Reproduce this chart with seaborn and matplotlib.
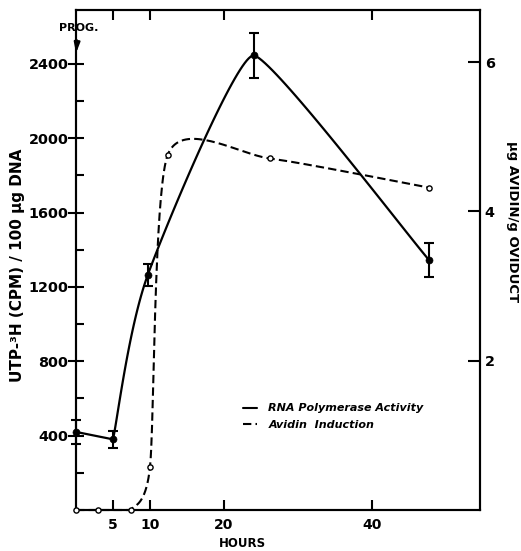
import numpy as np
import pandas as pd
import seaborn as sns
import matplotlib
matplotlib.use('Agg')
import matplotlib.pyplot as plt
from matplotlib.lines import Line2D

# RNA polymerase activity (left axis)
rna_hours = [0, 5, 9.7, 24, 47.7]
rna_cpm = [420, 380, 1265, 2445, 1346]
rna_err = [65, 45, 60, 120, 90]

# avidin induction (right axis)
avidin_hours = [0, 3, 7.4, 10, 12.4, 26.2, 47.7]
avidin_ug = [0, 0, 0, 0.58, 4.76, 4.71, 4.32]

x_ticks = [5, 10, 20, 40]
left_ticks = [400, 800, 1200, 1600, 2000, 2400]
left_minor = [200, 600, 1000, 1400, 1800, 2200]
right_ticks = [2, 4, 6]


def smooth(ax, xs, ys, tension=0.35, peak=None, n=40):
    # hand-drawn look: cardinal spline through the points, done in screen space
    pts = ax.transData.transform(np.column_stack([xs, ys]))
    tan = np.zeros_like(pts)
    tan[1:-1] = tension * (pts[2:] - pts[:-2])
    tan[0] = tension * (pts[1] - pts[0])
    tan[-1] = tension * (pts[-1] - pts[-2])
    if peak is not None:
        # round the top off flat at a local maximum/minimum
        for i in range(1, len(pts) - 1):
            if (pts[i, 1] - pts[i - 1, 1]) * (pts[i + 1, 1] - pts[i, 1]) < 0:
                tan[i] = [peak * (pts[i + 1, 0] - pts[i - 1, 0]), 0]
    t = np.linspace(0, 1, n)[:, None]
    h00 = 2 * t**3 - 3 * t**2 + 1
    h10 = t**3 - 2 * t**2 + t
    h01 = -2 * t**3 + 3 * t**2
    h11 = t**3 - t**2
    out = [pts[:1]]
    for i in range(len(pts) - 1):
        seg = h00 * pts[i] + h10 * tan[i] + h01 * pts[i + 1] + h11 * tan[i + 1]
        out.append(seg[1:])
    path = ax.transData.inverted().transform(np.vstack(out))
    return path[:, 0], path[:, 1]


sns.set_style('ticks')
plt.rcParams['font.family'] = ['DejaVu Sans']
plt.rcParams['font.weight'] = 'bold'
plt.rcParams['axes.labelweight'] = 'bold'
for key in ['text.color', 'axes.labelcolor', 'xtick.color', 'ytick.color', 'axes.edgecolor']:
    plt.rcParams[key] = 'black'

fig, ax = plt.subplots(figsize=(5.21, 5.51), dpi=100)
fig.subplots_adjust(left=0.146, right=0.921, bottom=0.0744, top=0.982)
ax2 = ax.twinx()

ax.set_xlim(0, 54.6)
ax.set_ylim(0, 2690)
ax2.set_ylim(0, 6.7)

# curves
sx, sy = smooth(ax, rna_hours[1:], rna_cpm[1:], tension=0.4, peak=0.18)
rna_x = np.concatenate([[rna_hours[0]], sx])
rna_y = np.concatenate([[rna_cpm[0]], sy])
sns.lineplot(x=rna_x, y=rna_y, ax=ax, sort=False, estimator=None,
             color='black', lw=1.6, clip_on=False)

vx, vy = smooth(ax2, avidin_hours[2:], avidin_ug[2:], tension=0.35)
av_x = np.concatenate([avidin_hours[:2], vx])
av_y = np.concatenate([avidin_ug[:2], vy])
sns.lineplot(x=av_x, y=av_y, ax=ax2, sort=False, estimator=None,
             color='black', lw=1.5, linestyle=(0, (4, 2)), clip_on=False)

# points and error bars
eb = ax.errorbar(rna_hours, rna_cpm, yerr=rna_err, fmt='none', ecolor='black',
                 elinewidth=1.5, capsize=3.5, capthick=1.5)
for art in eb.lines[1] + eb.lines[2]:
    art.set_clip_on(False)
sns.scatterplot(x=rna_hours, y=rna_cpm, ax=ax, color='black', edgecolor='black',
                s=26, zorder=5, clip_on=False)
sns.scatterplot(x=avidin_hours, y=avidin_ug, ax=ax2, color='white', edgecolor='black',
                linewidth=1, s=14, zorder=5, clip_on=False)

ax.set_xlim(0, 54.6)
ax.set_ylim(0, 2690)
ax2.set_ylim(0, 6.7)

# ticks
ax.set_xticks(x_ticks)
ax.set_xticklabels([str(v) for v in x_ticks])
ax.set_yticks(left_ticks)
ax.set_yticks(left_minor, minor=True)
ax2.set_yticks(right_ticks)
ax.tick_params(axis='x', which='major', direction='in', top=True, length=7.5,
               width=1.5, labelsize=10, pad=5.5)
ax.tick_params(axis='y', which='major', direction='inout', length=11,
               width=1.5, labelsize=10.4, pad=0)
ax.tick_params(axis='y', which='minor', direction='in', length=6, width=1.5)
ax2.tick_params(axis='y', direction='in', length=8.5, width=1.5, labelsize=10.4, pad=3.5)
for a in (ax, ax2):
    for sp in a.spines.values():
        sp.set_linewidth(1.5)
        sp.set_color('black')

# labels
ax.set_xlabel('HOURS', fontsize=8.5)
ax.xaxis.set_label_coords(0.413, -0.054)
ax.set_ylabel('UTP-³H (CPM) / 100 µg DNA', fontsize=11, va='center')
ax.yaxis.set_label_coords(-0.146, 0.49)
ax2.set_ylabel('µg AVIDIN/g OVIDUCT', fontsize=9.5, rotation=270, va='center')
ax2.yaxis.set_label_coords(1.082, 0.576)

ax.annotate('PROG.', xy=(0, 2458), xytext=(0.3, 2593), ha='center', va='center',
            fontsize=8, annotation_clip=False,
            arrowprops=dict(arrowstyle='-|>,head_length=0.75,head_width=0.22',
                            color='black', lw=1.5, shrinkA=3, shrinkB=0))

handles = [Line2D([], [], color='black', lw=1.5),
           Line2D([], [], color='black', lw=1.5, linestyle=(0, (4, 2)))]
ax.legend(handles, ['RNA Polymerase Activity', 'Avidin  Induction'],
          loc='center left', bbox_to_anchor=(0.413, 0.187), frameon=False,
          borderpad=0, borderaxespad=0, handlelength=1.3, handletextpad=1.0,
          labelspacing=0.55,
          prop={'weight': 'bold', 'style': 'italic', 'size': 8})

fig.savefig('out.png', dpi=100)
